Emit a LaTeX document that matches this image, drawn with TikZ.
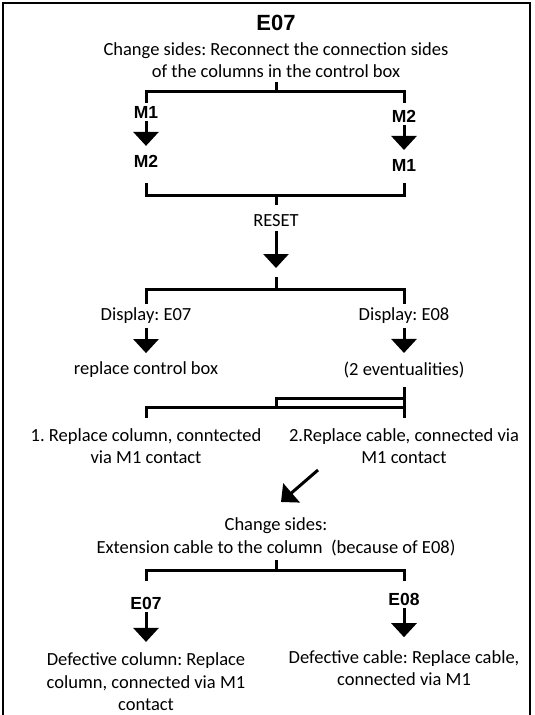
\documentclass[tikz,border=0pt]{standalone}
\usepackage{fontspec}
\setmainfont{Carlito}
\newfontfamily\tagfont{Liberation Sans}
\usetikzlibrary{arrows.meta}
\frenchspacing

\begin{document}
\begin{tikzpicture}[
    x=1pt, y=-1pt,
    tag/.style={font=\tagfont\bfseries\fontsize{17.5}{20}\selectfont, inner sep=0pt, outer sep=3pt},
    txt/.style={font=\fontsize{18.5}{22.6}\selectfont, align=center, inner sep=0pt, outer sep=4pt},
    bar/.style={line width=3pt},
    arrow/.style={-{Triangle[width=25pt, length=14pt]}, line width=3pt},
    frame/.style={line width=1.6pt}
]
\useasboundingbox (0,0) rectangle (535,715);

% Frame (open at the bottom)
\draw[frame] (3,716) -- (3,3) -- (530,3) -- (530,716);

% Header
\node[tag, font=\tagfont\bfseries\fontsize{22}{24}\selectfont] (title) at (276,23) {E07};
\node[txt] (intro) at (276,60) {Change sides: Reconnect the connection sides\\of the columns in the control box};

% Swap M1 / M2
\node[tag] (m1a) at (146,112) {M1};
\node[tag] (m2b) at (404,116) {M2};
\node[tag] (m2a) at (146,161) {M2};
\node[tag] (m1b) at (404,165) {M1};
\coordinate (fork1) at (276,91);
\coordinate (join1) at (276,195);

% Reset
\node[txt] (reset) at (276,221) {RESET};
\coordinate (fork2top) at (276,277);
\coordinate (fork2) at (276,289);

% Displays
\node[txt] (dispa) at (146,316) {Display: E07};
\node[txt] (dispb) at (404,316) {Display: E08};
\node[txt] (box) at (146,370) {replace control box};
\node[txt] (ev) at (404,370) {(2 eventualities)};
\coordinate (dblup) at (276,398);
\coordinate (dbllo) at (276,407);
\node[txt] (rep1) at (146,446) {1. Replace column, conntected\\via M1 contact};
\node[txt] (rep2) at (404,446) {2.Replace cable, connected via\\M1 contact};

% Second change of sides
\coordinate (diagtail) at (318,470);
\coordinate (diagtip) at (281,502);
\node[txt] (chg) at (276,537) {Change sides:\\Extension cable to the column\ \ (because of E08)};
\coordinate (fork3) at (276,570);
\node[tag] (e7) at (146,603) {E07};
\node[tag] (e8) at (404,599) {E08};
\node[txt] (def7) at (146,682) {Defective column: Replace\\column, connected via M1\\contact};
\node[txt] (def8) at (404,668) {Defective cable: Replace cable,\\connected via M1};

% Brackets and arrows
\draw[bar] (intro) -- (fork1);
\draw[bar] (m1a) |- (fork1) -| (m1a.north -| m2b);
\draw[arrow, shorten >=6pt] (m1a) -- (m2a);
\draw[arrow, shorten >=6pt] (m2b) -- (m1b);
\draw[bar, shorten <=13pt, shorten >=13pt] (m2a) |- (join1) -| (m2a.south -| m1b);
\draw[bar, shorten >=6pt] (join1) -- (reset);
\draw[arrow, shorten >=9pt] (reset) -- (fork2top);
\draw[bar] (fork2top) -- (fork2);
\draw[bar] (dispa) |- (fork2) -| (dispb);
\draw[arrow, shorten >=5pt] (dispa) -- (box);
\draw[arrow, shorten >=5pt] (dispb) -- (ev);
\draw[bar, shorten <=5pt, shorten >=6pt] (ev) -- (rep2);
\draw[bar] (ev |- dblup) -- (dblup) -- (dbllo);
\draw[bar, shorten <=6pt, shorten >=6pt] (rep1) |- (dbllo) -| (rep2);
\draw[arrow] (diagtail) -- (diagtip);
\draw[bar] (chg) -- (fork3);
\draw[bar, shorten <=13pt, shorten >=13pt] (e7) |- (fork3) -| (e7.north -| e8);
\draw[arrow, shorten >=7pt] (e7) -- (def7);
\draw[arrow, shorten >=9pt] (e8) -- (def8);

\end{tikzpicture}
\end{document}
